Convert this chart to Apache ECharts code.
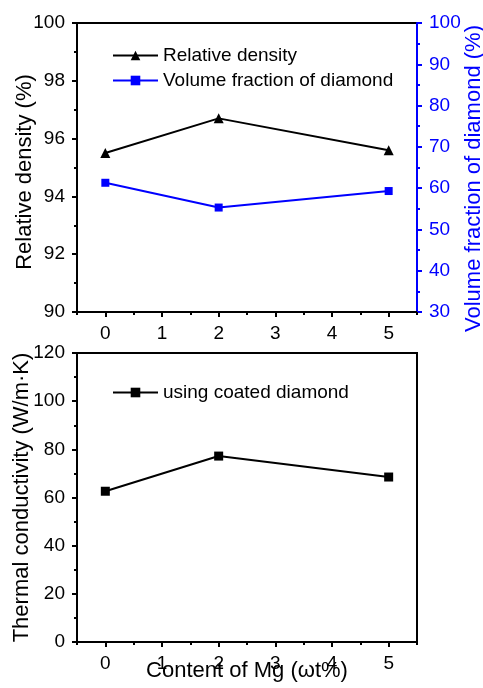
<!DOCTYPE html>
<html>
<head>
<meta charset="utf-8" />
<title>Mg content</title>
<script src="https://cdn.jsdelivr.net/npm/echarts@6/dist/echarts.min.js"></script>
<style>
  html, body { margin: 0; padding: 0; background: #fff; }
  #chart { width: 483px; height: 688px; }
</style>
</head>
<body>
<div id="chart"></div>
<script>
// Mg content (wt%) on the x axis
const mgContent = [0, 2, 5];
// upper panel
const relDensity = [95.5, 96.7, 95.6];
const volFraction = [61.3, 55.3, 59.3];
// lower panel
const thermalCond = [62.6, 77.2, 68.5];

const xMajor = [0, 1, 2, 3, 4, 5];
const xMinor = [-0.5, 0.5, 1.5, 2.5, 3.5, 4.5, 5.5];

const FONT = 'Liberation Sans';
const BLUE = '#0000ff';

function pairs(ys) {
    return mgContent.map(function (x, i) { return [x, ys[i]]; });
}

function mainX(gridIndex, name) {
    return {
        type: 'value', gridIndex: gridIndex, min: -0.5, max: 5.5,
        name: name, nameLocation: 'middle', nameGap: 18, nameMoveOverlap: false,
        nameTextStyle: { fontFamily: FONT, fontSize: 22, color: '#000' },
        axisLine: { onZero: false, lineStyle: { color: '#000', width: 2 } },
        axisTick: { length: 5, lineStyle: { width: 2 }, customValues: xMajor },
        axisLabel: { customValues: xMajor, margin: 12, fontFamily: FONT, fontSize: 19, color: '#000' },
        splitLine: { show: false }
    };
}
function minorX(gridIndex) {
    return {
        type: 'value', gridIndex: gridIndex, min: -0.5, max: 5.5, position: 'bottom',
        axisLine: { show: false, onZero: false },
        axisTick: { length: 3, lineStyle: { width: 2, color: '#000' }, customValues: xMinor },
        axisLabel: { show: false },
        splitLine: { show: false }
    };
}
function yAxis(gridIndex, min, max, interval, name, color, pos, gap, shift) {
    return {
        type: 'value', gridIndex: gridIndex, position: pos,
        min: min, max: max, interval: interval,
        name: name, nameLocation: 'middle', nameGap: gap, nameRotate: 90, nameMoveOverlap: false,
        nameTextStyle: { fontFamily: FONT, fontSize: 22, color: color, padding: [0, shift, 0, 0] },
        axisLine: { show: true, onZero: false, lineStyle: { color: color, width: 2 } },
        axisTick: { show: true, length: 5, lineStyle: { width: 2 } },
        minorTick: { show: true, splitNumber: 2, length: 3, lineStyle: { color: color, width: 2 } },
        axisLabel: { margin: 12, fontFamily: FONT, fontSize: 19, color: color },
        splitLine: { show: false }
    };
}

const chart = echarts.init(document.getElementById('chart'));
chart.setOption({
    animation: false,
    backgroundColor: '#fff',
    grid: [
        { left: 77, right: 66, top: 23, height: 289, outerBoundsMode: 'none', containLabel: false,
          show: true, borderColor: '#000', borderWidth: 2 },
        { left: 77, right: 66, top: 353, height: 289, outerBoundsMode: 'none', containLabel: false,
          show: true, borderColor: '#000', borderWidth: 2 }
    ],
    legend: [
        {
            orient: 'vertical', left: 107, top: 41, itemWidth: 45, itemHeight: 12, itemGap: 6,
            textStyle: { fontFamily: FONT, fontSize: 19, color: '#000' },
            data: ['Relative density', 'Volume fraction of diamond']
        },
        {
            orient: 'vertical', left: 107, top: 378, itemWidth: 45, itemHeight: 12,
            textStyle: { fontFamily: FONT, fontSize: 19, color: '#000' },
            data: ['using coated diamond']
        }
    ],
    xAxis: [
        mainX(0, ''),
        minorX(0),
        mainX(1, 'Content of Mg (\u03c9t%)'),
        minorX(1)
    ],
    yAxis: [
        yAxis(0, 90, 100, 2, 'Relative density (%)', '#000', 'left', 41, 9),
        yAxis(0, 30, 100, 10, 'Volume fraction of diamond (%)', BLUE, 'right', 46, 22),
        yAxis(1, 0, 120, 20, 'Thermal conductivity (W/m\u00b7K)', '#000', 'left', 44, 0)
    ],
    series: [
        {
            name: 'Relative density', type: 'line', xAxisIndex: 0, yAxisIndex: 0,
            data: pairs(relDensity), symbol: 'triangle', symbolSize: 10,
            itemStyle: { color: '#000' }, lineStyle: { color: '#000', width: 2 }
        },
        {
            name: 'Volume fraction of diamond', type: 'line', xAxisIndex: 0, yAxisIndex: 1,
            data: pairs(volFraction), symbol: 'rect', symbolSize: 8,
            itemStyle: { color: BLUE }, lineStyle: { color: BLUE, width: 2 }
        },
        {
            name: 'using coated diamond', type: 'line', xAxisIndex: 2, yAxisIndex: 2,
            data: pairs(thermalCond), symbol: 'rect', symbolSize: 9,
            itemStyle: { color: '#000' }, lineStyle: { color: '#000', width: 2 }
        }
    ]
});
</script>
</body>
</html>
